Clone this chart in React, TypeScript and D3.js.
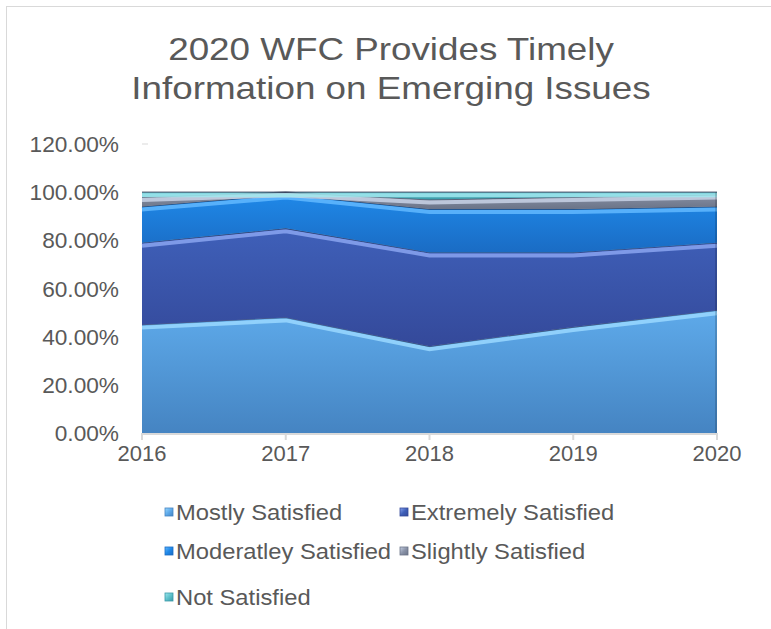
import React from "react";
import * as d3 from "d3";

const years = ["2016", "2017", "2018", "2019", "2020"];
const seriesNames = [
  "Mostly Satisfied",
  "Extremely Satisfied",
  "Moderatley Satisfied",
  "Slightly Satisfied",
  "Not Satisfied",
];
const mostly = [0.45, 0.48, 0.36, 0.44, 0.51];
const extremely = [0.34, 0.37, 0.39, 0.31, 0.28];
const moderately = [0.15, 0.14, 0.18, 0.18, 0.15];
const slightly = [0.04, 0.01, 0.04, 0.05, 0.05];
const notSat = [0.02, 0.0, 0.03, 0.02, 0.01];
const yTicks = [0, 0.2, 0.4, 0.6, 0.8, 1.0, 1.2];

// top, bottom, highlight colours per series
const colors = [
  ["#5eaaea", "#4584c2", "#9ad8ff"],
  ["#3f60b9", "#34499a", "#8aa4f0"],
  ["#1f88e8", "#1a6cc4", "#62b8ff"],
  ["#8a93a8", "#6b7488", "#c8d2e6"],
  ["#5fc2cc", "#3a9aa8", "#a0e8ee"],
];

const W = 771;
const H = 629;
const margin = { left: 142, right: 54, top: 144, bottom: 196 };

function Txt(props: any) {
  const { x, y, sx = 1, children, ...rest } = props;
  return (
    <text transform={`translate(${x},${y}) scale(${sx},1)`} {...rest}>
      {children}
    </text>
  );
}

export default function App() {
  const table = years.map((y, i) => ({
    year: y,
    s0: mostly[i],
    s1: extremely[i],
    s2: moderately[i],
    s3: slightly[i],
    s4: notSat[i],
  }));
  const keys = ["s0", "s1", "s2", "s3", "s4"];
  const stacked = d3.stack<any>().keys(keys)(table);

  const x = d3
    .scalePoint<string>()
    .domain(years)
    .range([margin.left, W - margin.right]);
  const y = d3
    .scaleLinear()
    .domain([0, 1.2])
    .range([H - margin.bottom, margin.top]);

  const area = d3
    .area<any>()
    .x((d) => x(d.data.year)!)
    .y0((d) => y(d[0]))
    .y1((d) => y(d[1]));
  const topLine = d3
    .line<any>()
    .x((d) => x(d.data.year)!)
    .y((d) => y(d[1]));

  const font = "'Liberation Sans', Arial, sans-serif";
  const txt = "#595959";

  const legendPos = [
    [165, 520],
    [400, 520],
    [165, 559],
    [400, 559],
    [165, 605],
  ];

  return (
    <svg
      width={W}
      height={H}
      style={{ position: "absolute", left: 0, top: 0, background: "#fff" }}
      fontFamily={font}
    >
      <defs>
        {colors.map((c, i) => (
          <linearGradient key={i} id={"g" + i} x1="0" x2="0" y1="0" y2="1">
            <stop offset="0%" stopColor={c[0]} />
            <stop offset="100%" stopColor={c[1]} />
          </linearGradient>
        ))}
        {colors.map((c, i) => (
          <linearGradient key={"m" + i} id={"m" + i} x1="0" x2="1" y1="0" y2="1">
            <stop offset="0%" stopColor={c[2]} />
            <stop offset="50%" stopColor={c[0]} />
            <stop offset="100%" stopColor={c[1]} />
          </linearGradient>
        ))}
      </defs>
      <rect x={6.5} y={6.5} width={W + 10} height={H + 10} fill="#fff" stroke="#d9d9d9" />

      <Txt x={391} y={60} sx={1.15} textAnchor="middle" fontSize={32} fill={txt}>
        2020 WFC Provides Timely
      </Txt>
      <Txt x={391} y={99} sx={1.15} textAnchor="middle" fontSize={32} fill={txt}>
        Information on Emerging Issues
      </Txt>

      {yTicks.map((t) => (
        <Txt
          key={t}
          x={119}
          y={y(t) + 8}
          sx={1.03}
          textAnchor="end"
          fontSize={22}
          fill={txt}
        >
          {(t * 100).toFixed(2) + "%"}
        </Txt>
      ))}
      <line x1={margin.left} x2={margin.left + 6} y1={y(1.2)} y2={y(1.2)} stroke="#d9d9d9" />

      {stacked.map((s, i) => (
        <g key={s.key}>
          <path d={area(s) || ""} fill={`url(#g${i})`} />
          <path
            d={topLine(s) || ""}
            fill="none"
            stroke={colors[i][2]}
            strokeWidth={4}
            transform="translate(0,3)"
            opacity={0.85}
          />
          <path d={topLine(s) || ""} fill="none" stroke="#2a3550" strokeWidth={1.2} opacity={0.7} />
        </g>
      ))}
      <line
        x1={W - margin.right - 1}
        x2={W - margin.right - 1}
        y1={y(1)}
        y2={y(0)}
        stroke="#000"
        opacity={0.15}
        strokeWidth={2}
      />

      <line
        x1={margin.left}
        x2={W - margin.right}
        y1={y(0) + 1}
        y2={y(0) + 1}
        stroke="#d9d9d9"
        strokeWidth={2}
      />
      {years.map((yr) => (
        <g key={yr}>
          <line x1={x(yr)} x2={x(yr)} y1={y(0)} y2={y(0) + 7} stroke="#d9d9d9" strokeWidth={2} />
          <Txt x={x(yr)} y={461} textAnchor="middle" fontSize={22} fill={txt}>
            {yr}
          </Txt>
        </g>
      ))}

      {seriesNames.map((n, i) => (
        <g key={n} transform={`translate(${legendPos[i][0]},${legendPos[i][1]})`}>
          <rect x={0} y={-12} width={8} height={8} fill={`url(#m${i})`} stroke={colors[i][1]} strokeWidth={0.8} />
          <Txt x={11} y={0} sx={1.08} fontSize={22} fill={txt}>
            {n}
          </Txt>
        </g>
      ))}
    </svg>
  );
}
